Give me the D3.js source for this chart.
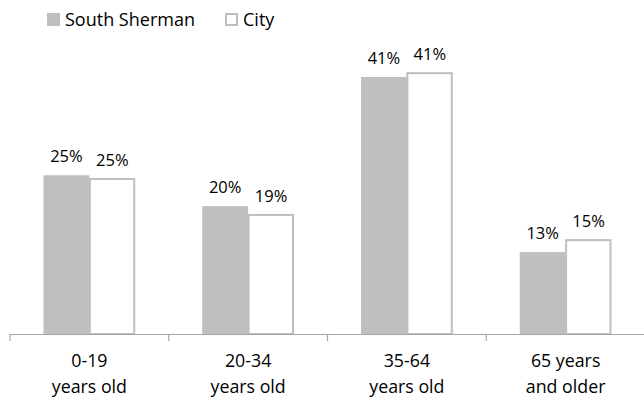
<!DOCTYPE html>
<html><head><meta charset="utf-8">
<script src="https://cdn.jsdelivr.net/npm/d3@7"></script>
<style>html,body{margin:0;padding:0;background:#fff;}svg{display:block;font-family:"Open Sans",sans-serif;}</style>
</head><body>
<svg id="chart" width="644" height="398"></svg>
<script>
const categories = ["0-19|years old", "20-34|years old", "35-64|years old", "65 years|and older"];
const seriesNames = ["South Sherman", "City"];
const southSherman = [25.2, 20.3, 40.8, 13.0];
const city = [24.6, 18.9, 41.4, 14.9];
const labelsSouth = ["25%", "20%", "41%", "13%"];
const labelsCity = ["25%", "19%", "41%", "15%"];

const svg = d3.select("#chart");
const axisY = 334;
const x = d3.scaleBand().domain(categories).range([10, 645]).padding(0);
const y = d3.scaleLinear().domain([0, 50]).range([axisY, axisY - 315]);
const groupW = x.step() * 0.578;
const xs = d3.scaleBand().domain(seriesNames).range([0, groupW]).padding(0);
const grey = "#bfbfbf";

const data = categories.map((c, i) => ({c, vals: [
  {s: seriesNames[0], v: southSherman[i], lab: labelsSouth[i]},
  {s: seriesNames[1], v: city[i], lab: labelsCity[i]}
]}));

const grp = svg.append("g").selectAll("g.grp").data(data).join("g")
  .attr("transform", d => `translate(${x(d.c) + (x.bandwidth() - groupW) / 2},0)`);

grp.selectAll("rect").data(d => d.vals).join("rect")
  .attr("x", d => xs(d.s) + (d.s === "City" ? 0.5 : 0))
  .attr("y", d => y(d.v))
  .attr("width", d => xs.bandwidth() - (d.s === "City" ? 1.5 : 0))
  .attr("height", d => axisY - y(d.v))
  .attr("fill", d => d.s === "City" ? "#fff" : grey)
  .attr("stroke", d => d.s === "City" ? grey : "none")
  .attr("stroke-width", 2);

grp.selectAll("text.lab").data(d => d.vals).join("text").attr("class", "lab")
  .attr("x", d => xs(d.s) + xs.bandwidth() / 2)
  .attr("y", d => y(d.v) - 13)
  .attr("text-anchor", "middle")
  .attr("font-size", 16.5)
  .attr("fill", "#000")
  .text(d => d.lab);

// axis
const axis = d3.axisBottom(x).tickSize(0).tickFormat("");
const ag = svg.append("g").attr("transform", `translate(0,${axisY})`).call(axis);
ag.select(".domain").attr("stroke", "#a6a6a6").attr("stroke-width", 1.2).attr("d", `M10,0.5H644`);
const tickPos = categories.map(c => x(c)).concat([x.range()[1]]);
ag.selectAll("line.sep").data(tickPos).join("line").attr("class", "sep")
  .attr("x1", d => d).attr("x2", d => d).attr("y1", 0).attr("y2", 7)
  .attr("stroke", "#a6a6a6").attr("stroke-width", 1.2);

const cl = svg.append("g").selectAll("text").data(categories).join("text")
  .attr("text-anchor", "middle")
  .attr("font-size", 17.8)
  .attr("fill", "#000");
cl.each(function(c) {
  const parts = c.split("|");
  const t = d3.select(this);
  parts.forEach((p, i) => t.append("tspan")
    .attr("x", x(c) + x.bandwidth() / 2)
    .attr("y", 366.5 + i * 26)
    .text(p));
});

// legend
const leg = svg.append("g");
const legX = [47, 225];
seriesNames.forEach((s, i) => {
  leg.append("rect").attr("x", legX[i] + (i ? 1 : 0)).attr("y", 13 + (i ? 1 : 0))
    .attr("width", i ? 11 : 13).attr("height", i ? 11 : 13)
    .attr("fill", i ? "#fff" : grey).attr("stroke", i ? grey : "none").attr("stroke-width", 2);
  leg.append("text").attr("x", legX[i] + 18).attr("y", 25.5)
    .attr("font-size", 18).attr("fill", "#000").text(s);
});
</script>
</body></html>
